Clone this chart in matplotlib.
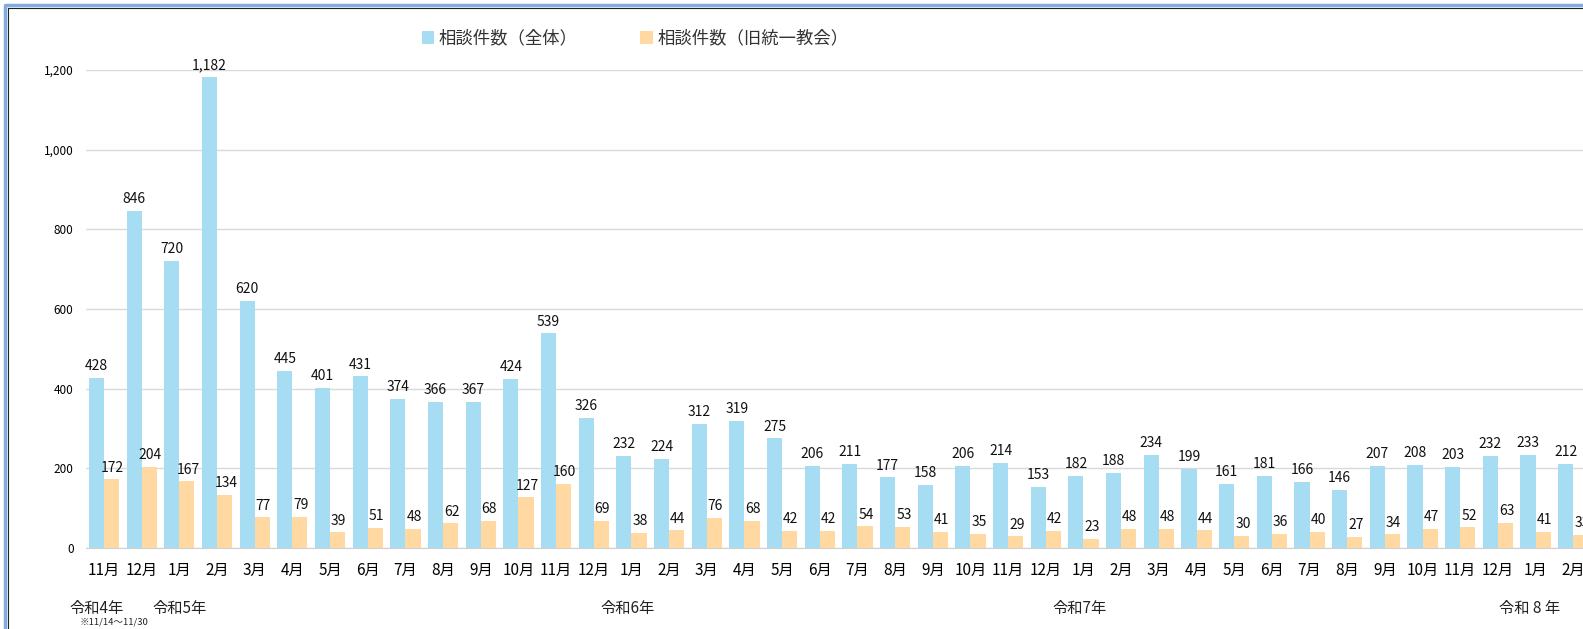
import numpy as np
import matplotlib.pyplot as plt
from matplotlib.lines import Line2D
from matplotlib.ticker import FuncFormatter

plt.rcParams['font.family'] = ['Noto Sans CJK JP', 'DejaVu Sans']

# month labels (令和4年11月 - 令和8年2月)
months = ["11月", "12月", "1月", "2月", "3月", "4月", "5月", "6月", "7月", "8月",
          "9月", "10月", "11月", "12月", "1月", "2月", "3月", "4月", "5月", "6月",
          "7月", "8月", "9月", "10月", "11月", "12月", "1月", "2月", "3月", "4月",
          "5月", "6月", "7月", "8月", "9月", "10月", "11月", "12月", "1月", "2月"]

total = [428, 846, 720, 1182, 620, 445, 401, 431, 374, 366,
         367, 424, 539, 326, 232, 224, 312, 319, 275, 206,
         211, 177, 158, 206, 214, 153, 182, 188, 234, 199,
         161, 181, 166, 146, 207, 208, 203, 232, 233, 212]

unification = [172, 204, 167, 134, 77, 79, 39, 51, 48, 62,
               68, 127, 160, 69, 38, 44, 76, 68, 42, 42,
               54, 53, 41, 35, 29, 42, 23, 48, 48, 44,
               30, 36, 40, 27, 34, 47, 52, 63, 41, 33]

# year labels: (text, month index position)
year_labels = [("令和4年", -0.2), ("令和5年", 2.0), ("令和6年", 13.9),
               ("令和7年", 25.9), ("令和 8 年", 37.85)]

BLUE = "#A6DDF2"
ORANGE = "#FFD9A1"

W, H = 1583, 629
fig = plt.figure(figsize=(W / 100, H / 100), dpi=100)

# outer frame: only the left and top edges are visible
for off, col, lw in [(5, "#7FAEDD", 2.5), (7.5, "#222222", 0.8)]:
    fig.lines.append(Line2D([off / W, off / W, 1.0], [0, 1 - off / H, 1 - off / H],
                            transform=fig.transFigure, color=col, lw=lw))

ax = fig.add_axes([86 / W, 1 - 548 / H, 1 - 86 / W, (548 - 70) / H])

x = np.arange(len(months))
bw = 0.40
ax.bar(x - bw / 2, total, bw, color=BLUE, label="相談件数（全体）", zorder=2)
ax.bar(x + bw / 2, unification, bw, color=ORANGE, label="相談件数（旧統一教会）", zorder=2)

for i in range(len(months)):
    ax.text(x[i] - bw / 2, total[i] + 12, f"{total[i]:,}",
            ha="center", va="bottom", fontsize=10, color="#111111")
    ax.text(x[i] + bw / 2 + 0.03, unification[i] + 12, str(unification[i]),
            ha="center", va="bottom", fontsize=10, color="#111111")

ax.set_ylim(0, 1200)
ax.set_yticks(range(0, 1201, 200))
ax.yaxis.set_major_formatter(FuncFormatter(lambda v, p: f"{int(v):,}"))
ax.set_xlim(-0.48, 39.26)
ax.grid(axis="y", color="#D9D9D9", lw=1, zorder=0)
ax.set_axisbelow(True)
for s in ["top", "right", "left"]:
    ax.spines[s].set_visible(False)
ax.spines["bottom"].set_color("#D0D0D0")
ax.tick_params(axis="y", length=0, labelsize=8.5, pad=9)
ax.tick_params(axis="x", length=0, labelsize=11, pad=10)
ax.set_xticks(x)
ax.set_xticklabels(months)

for txt, pos in year_labels:
    ax.text(pos, -153, txt, ha="center", va="center", fontsize=11, color="#222222")
ax.text(0.27, -187, "※11/14～11/30", ha="center", va="center", fontsize=6.8, color="#222222")

leg = fig.legend(loc="upper left", bbox_to_anchor=(406 / W, 1 - 14 / H), ncol=2,
                 frameon=False, fontsize=12.5, handlelength=0.7, handleheight=0.7,
                 handletextpad=0.3, columnspacing=3.6)
for t in leg.get_texts():
    t.set_color("#333333")

fig.savefig("out.png", dpi=100)
